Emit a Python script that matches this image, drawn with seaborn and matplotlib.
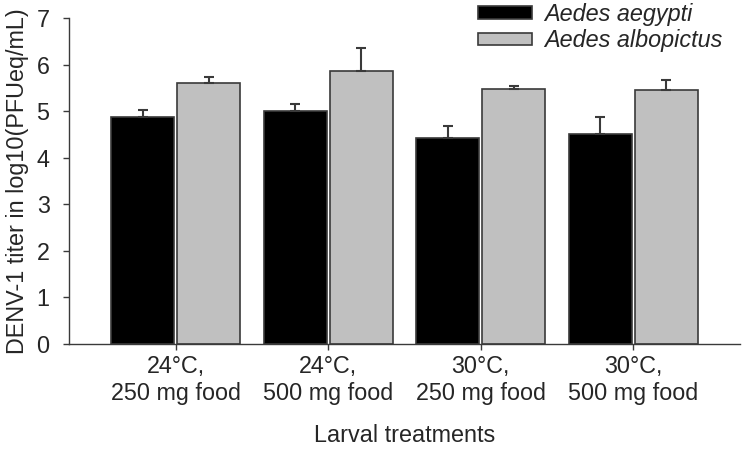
import matplotlib
matplotlib.use("Agg")
import matplotlib.pyplot as plt
import seaborn as sns
import pandas as pd
import numpy as np

categories = ["24°C,\n250 mg food", "24°C,\n500 mg food", "30°C,\n250 mg food", "30°C,\n500 mg food"]
species = ["Aedes aegypti", "Aedes albopictus"]
aegypti_mean = [4.87, 5.01, 4.43, 4.51]
aegypti_err = [0.15, 0.15, 0.26, 0.36]
albopictus_mean = [5.60, 5.86, 5.48, 5.46]
albopictus_err = [0.14, 0.50, 0.05, 0.20]
yticks = [0, 1, 2, 3, 4, 5, 6, 7]

df = pd.DataFrame({
    "treatment": categories * 2,
    "species": [species[0]] * 4 + [species[1]] * 4,
    "titer": aegypti_mean + albopictus_mean,
    "err": aegypti_err + albopictus_err,
})

sns.set_style("ticks")
plt.rcParams["font.family"] = ["Liberation Sans", "DejaVu Sans"]
FS = 16.8

fig = plt.figure(figsize=(7.42, 4.49), dpi=100)
ax = fig.add_axes([69 / 742, 1 - 344 / 449, (740 - 69) / 742, (344 - 18) / 449])

sns.barplot(data=df, x="treatment", y="titer", hue="species", order=categories,
            hue_order=species, palette=["#000000", "#c0c0c0"], errorbar=None,
            width=0.86, gap=0.04, edgecolor="#3a3a3a", linewidth=1.2, ax=ax,
            legend=True)

# error bars (upper only) using bar positions from seaborn
errs = {species[0]: aegypti_err, species[1]: albopictus_err}
means = {species[0]: aegypti_mean, species[1]: albopictus_mean}
for cont, sp in zip(ax.containers, species):
    xs = [p.get_x() + p.get_width() / 2 for p in cont.patches]
    ax.errorbar(xs, means[sp], yerr=[np.zeros(len(xs)), errs[sp]], fmt="none",
                ecolor="#3a3a3a", elinewidth=1.5, capsize=3.6, capthick=1.5, zorder=3)

ax.set_xlim(-0.70, 3.70)
ax.set_ylim(0, 7)
ax.set_yticks(yticks)
ax.set_yticklabels([str(t) for t in yticks])
ax.tick_params(axis="y", labelsize=FS, length=4, width=1, color="#3a3a3a", pad=10)
ax.tick_params(axis="x", labelsize=FS, length=4, width=1, color="#3a3a3a", pad=4)
for lbl in ax.get_xticklabels():
    lbl.set_linespacing(1.2)
for s in ["top", "right"]:
    ax.spines[s].set_visible(False)
for s in ["left", "bottom"]:
    ax.spines[s].set_color("#3a3a3a")
    ax.spines[s].set_linewidth(1.0)

ax.set_ylabel("DENV-1 titer in log10(PFUeq/mL)", fontsize=FS, labelpad=5)
ax.set_xlabel("Larval treatments", fontsize=FS, labelpad=14)

handles, labels = ax.get_legend_handles_labels()
ax.legend(handles, labels, loc="upper left", bbox_to_anchor=(478 / 742, 1 - 3 / 449),
          bbox_transform=fig.transFigure, frameon=False,
          prop={"style": "italic", "size": FS},
          handlelength=2.3, handleheight=0.45, handletextpad=0.55, labelspacing=0.15,
          borderaxespad=0, borderpad=0)

fig.savefig("out.png", dpi=100)
